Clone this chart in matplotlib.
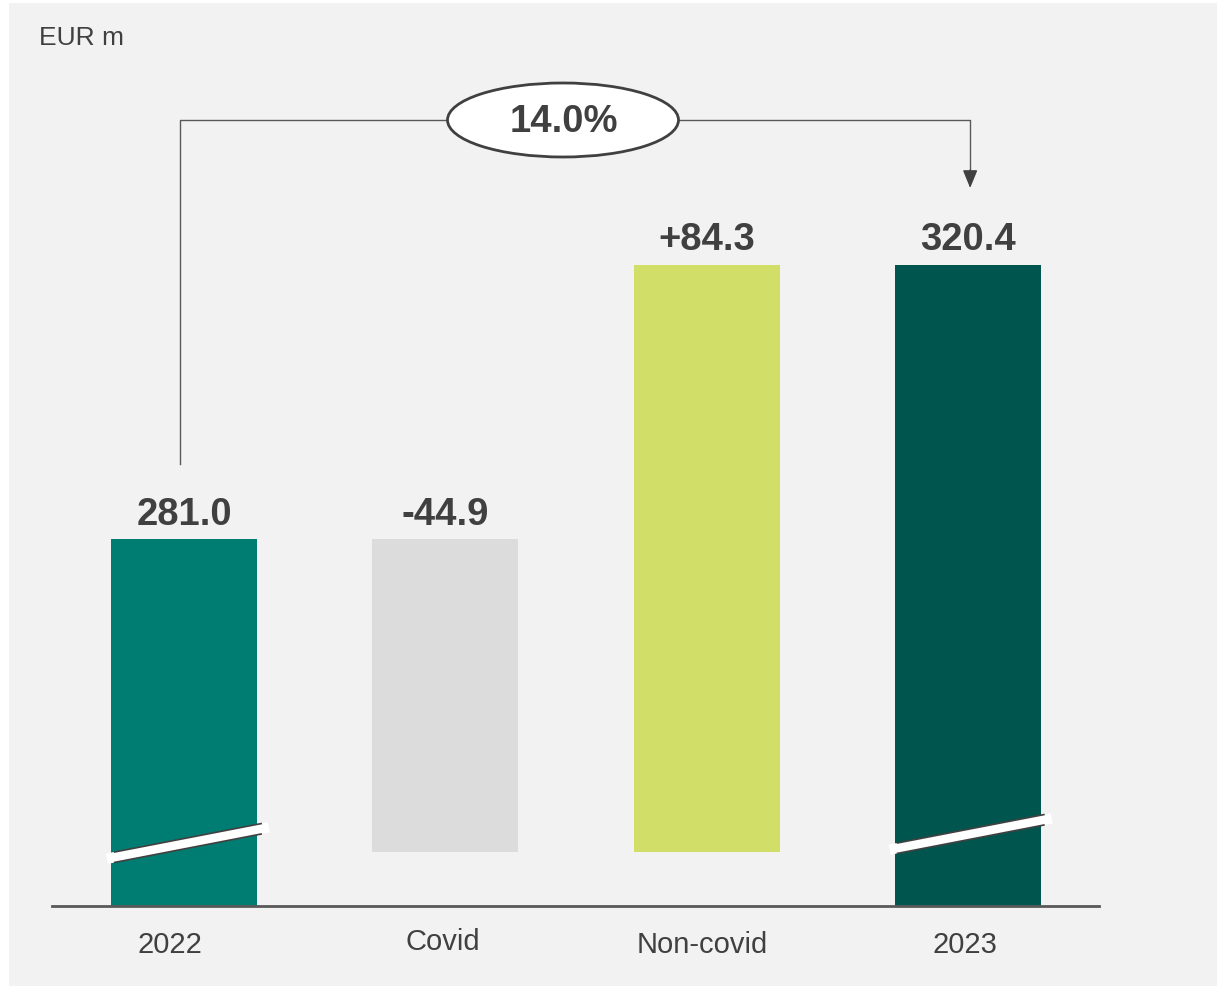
import matplotlib
matplotlib.use("Agg")
import matplotlib.pyplot as plt
from matplotlib.patches import Ellipse, Rectangle
from matplotlib.transforms import blended_transform_factory, ScaledTranslation

plt.rcParams['font.family'] = ['Liberation Sans', 'DejaVu Sans']

# ---- data ----
categories = ["2022", "Covid", "Non-covid", "2023"]
start_value = 281.0
changes = [-44.9, 84.3]
end_value = 320.4
value_labels = ["281.0", "-44.9", "+84.3", "320.4"]
growth_label = "14.0%"
unit_label = "EUR m"

colors = ["#007D73", "#DCDCDC", "#D1DF68", "#00564E"]
text_color = "#404040"
line_color = "#595959"

# waterfall geometry from the data
axis_floor = 228.4
bottoms = [axis_floor]
tops = [start_value]
level = start_value
for c in changes:
    new_level = level + c
    bottoms.append(min(level, new_level))
    tops.append(max(level, new_level))
    level = new_level
bottoms.append(axis_floor)
tops.append(end_value)
heights = [t - b for t, b in zip(tops, bottoms)]

W, H = 1217, 987
fig = plt.figure(figsize=(W / 100, H / 100), dpi=100)
fig.patch.set_facecolor("white")
fig.patches.append(Rectangle((9 / W, 0), 1 - 9 / W, 1 - 4 / H,
                             transform=fig.transFigure, facecolor="#F2F2F2",
                             edgecolor="none", zorder=-10))

ax_left, ax_right = 52 / W, 1099 / W
ax_bottom = (H - 907) / H
ax_top = (H - 20) / H
ax = fig.add_axes([ax_left, ax_bottom, ax_right - ax_left, ax_top - ax_bottom])
ax.set_facecolor("none")
ax.set_xlim(-0.505, 3.501)
px_per_unit = 6.97
ax.set_ylim(axis_floor, axis_floor + (907 - 20) / px_per_unit)

x = list(range(len(categories)))
bar_w = 0.559
ax.bar(x, heights, bottom=bottoms, width=bar_w, color=colors, edgecolor="none", zorder=2)

for xi, t, lab in zip(x, tops, value_labels):
    ax.annotate(lab, (xi, t), xytext=(0, 11), textcoords="offset points",
                ha="center", va="baseline", fontsize=27.5, fontweight="bold",
                color=text_color, zorder=5)

ax.set_xticks(x)
ax.set_xticklabels(categories, fontsize=21, color=text_color)
ax.tick_params(axis="x", length=0, pad=17)
label_shift_px = [-14, -3, -4, -3]
label_vshift_px = [0, 3, 0, 0]
for lbl, sx, sy in zip(ax.get_xticklabels(), label_shift_px, label_vshift_px):
    lbl.set_transform(lbl.get_transform() + ScaledTranslation(sx / 100, sy / 100, fig.dpi_scale_trans))
ax.set_yticks([])
for s in ["top", "right", "left"]:
    ax.spines[s].set_visible(False)
ax.spines["bottom"].set_color(line_color)
ax.spines["bottom"].set_linewidth(2)

# axis break marks on the first and last bars
def break_mark(xc, yc):
    dx_w = 0.31   # half-length of white band (data x)
    dy = 31 / px_per_unit / 2 * (0.31 / 0.306)
    ax.plot([xc - dx_w, xc + dx_w], [yc - dy, yc + dy], color="white",
            lw=7.5, solid_capstyle="butt", zorder=3)
    dx_l = 0.28
    off = 5.2 / px_per_unit
    for o in (off, -off):
        ax.plot([xc - dx_l, xc + dx_l], [yc - dy * dx_l / dx_w + o, yc + dy * dx_l / dx_w + o],
                color="#404040", lw=1.2, zorder=4)

break_mark(x[0] + 0.015, axis_floor + (907 - 844) / px_per_unit)
break_mark(x[3] + 0.01, axis_floor + (907 - 835) / px_per_unit)

# bracket with growth annotation
bt = blended_transform_factory(ax.transData, fig.transFigure)
y_br = (H - 121) / H
ax.plot([x[0] - 0.015, x[0] - 0.015, 1.45], [(H - 465) / H, y_br, y_br],
        transform=bt, color=line_color, lw=1.0, clip_on=False, zorder=1)
ax.plot([1.45, x[3] + 0.008, x[3] + 0.008], [y_br, y_br, (H - 172) / H],
        transform=bt, color=line_color, lw=1.0, clip_on=False, zorder=1)
ax.annotate("", xy=(x[3] + 0.008, (H - 189) / H), xytext=(x[3] + 0.008, (H - 171) / H),
            xycoords=bt, textcoords=bt,
            arrowprops=dict(arrowstyle="-|>,head_length=1.1,head_width=0.45",
                            color="#404040", lw=1.0, shrinkA=0, shrinkB=0))
fig.patches.append(Ellipse((563 / W, (H - 121) / H), 231 / W, 74 / H,
                           transform=fig.transFigure, facecolor="white",
                           edgecolor="#404040", lw=2, zorder=6))
fig.text(564 / W, (H - 122) / H, growth_label, ha="center", va="center",
         fontsize=27.5, fontweight="bold", color=text_color, zorder=7)

fig.text(39 / W, (H - 45) / H, unit_label, ha="left", va="baseline",
         fontsize=19, color=text_color)

fig.savefig("out.png", dpi=100, facecolor=fig.get_facecolor())
